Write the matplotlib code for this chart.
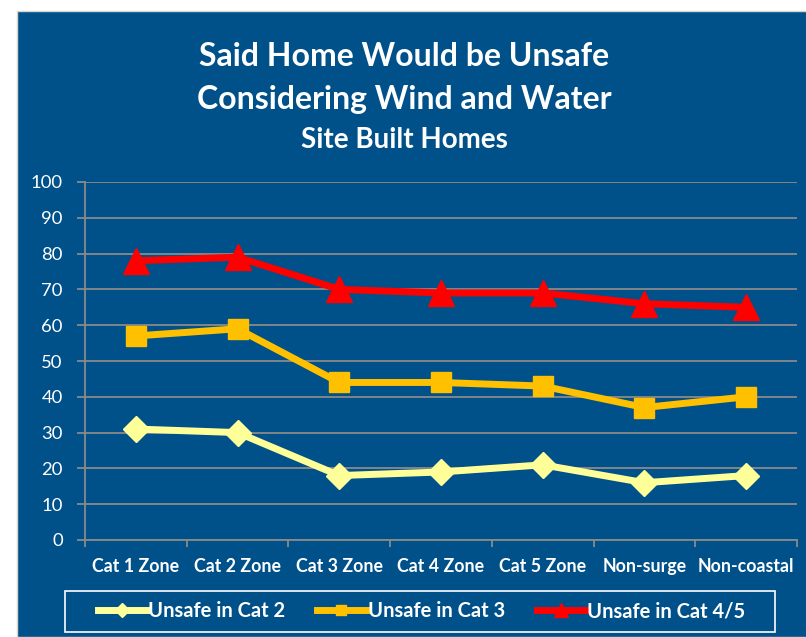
import matplotlib.pyplot as plt
from matplotlib.patches import Rectangle

categories = ['Cat 1 Zone', 'Cat 2 Zone', 'Cat 3 Zone', 'Cat 4 Zone', 'Cat 5 Zone', 'Non-surge', 'Non-coastal']
cat2 = [31, 30, 18, 19, 21, 16, 18]
cat3 = [57, 59, 44, 44, 43, 37, 40]
cat45 = [78, 79, 70, 69, 69, 66, 65]

bg = '#00518a'
grid_col = '#8a8a8a'
font = ['Lato', 'DejaVu Sans']
plt.rcParams['font.family'] = font

W, H = 806, 637
fig = plt.figure(figsize=(W / 100, H / 100), dpi=100, facecolor='white')
# blue slide background with thin light border
fig.patches.append(Rectangle((17 / W, 0), 1, (H - 11) / H, transform=fig.transFigure,
                             facecolor=bg, edgecolor='#d8d6c8', lw=1, zorder=-5))
# legend frame
fig.patches.append(Rectangle((65 / W, (H - 632) / H), 710 / W, 41 / H, transform=fig.transFigure,
                             facecolor='none', edgecolor='white', lw=1.2, zorder=-4))

ax = fig.add_axes([85 / W, 97 / H, 712 / W, 358 / H], zorder=2)
ax.patch.set_alpha(0)

x = list(range(len(categories)))
ax.plot(x, cat2, color='#ffff99', lw=5, marker='D', ms=13, label='Unsafe in Cat 2', zorder=3)
ax.plot(x, cat3, color='#ffc000', lw=5, marker='s', ms=14, label='Unsafe in Cat 3', zorder=4)
ax.plot(x, cat45, color='#ff0000', lw=5, marker='^', ms=19, label='Unsafe in Cat 4/5', zorder=5)

ax.set_xlim(-0.5, len(categories) - 0.5)
ax.set_ylim(0, 100)
ax.set_yticks(range(0, 101, 10))
ax.yaxis.grid(True, color=grid_col, lw=1.3)
ax.set_axisbelow(True)
ax.tick_params(axis='y', colors=grid_col, length=6, width=1.3, labelcolor='white', labelsize=13.3, pad=10)
ax.set_xticks(x)
ax.set_xticklabels(categories, color='white', fontsize=12.8, fontweight='bold')
ax.set_xticks([i - 0.5 for i in range(len(categories) + 1)], minor=True)
ax.tick_params(axis='x', which='major', length=0, pad=13)
ax.tick_params(axis='x', which='minor', colors=grid_col, length=5, width=1.3)
for s in ['top', 'right']:
    ax.spines[s].set_visible(False)
for s in ['left', 'bottom']:
    ax.spines[s].set_color(grid_col)
    ax.spines[s].set_linewidth(1.3)

fig.text(404 / W, 1 - 56 / H, 'Said Home Would be Unsafe', color='white', fontsize=23,
         fontweight='bold', ha='center', va='center')
fig.text(404 / W, 1 - 100 / H, 'Considering Wind and Water', color='white', fontsize=23,
         fontweight='bold', ha='center', va='center')
fig.text(404 / W, 1 - 140 / H, 'Site Built Homes', color='white', fontsize=20,
         fontweight='bold', ha='center', va='center')

leg = fig.legend(loc='center', bbox_to_anchor=(98 / W, (H - 626) / H, 647 / W, 30 / H),
                 mode='expand', ncol=3, frameon=False, fontsize=14.5,
                 handlelength=2.4, handletextpad=0.1, columnspacing=1.6, borderpad=0,
                 borderaxespad=0, markerscale=0.55)
for t in leg.get_texts():
    t.set_color('white')
    t.set_fontweight('bold')

fig.savefig('out.png', dpi=100, facecolor=fig.get_facecolor())
